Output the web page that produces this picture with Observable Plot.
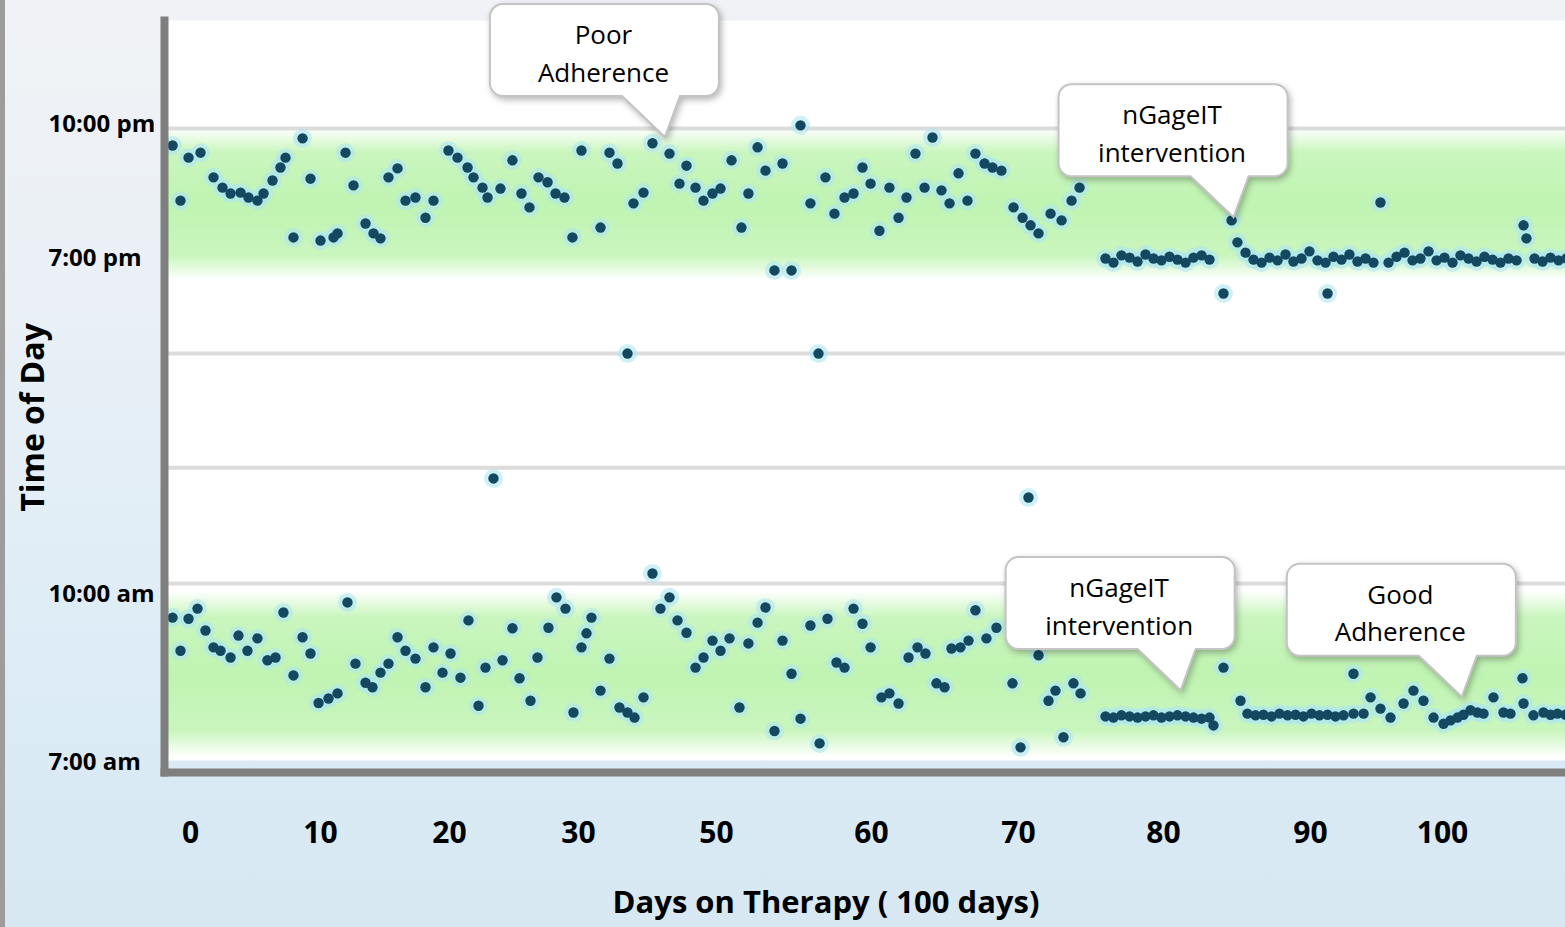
<!DOCTYPE html>
<html>
<head>
<meta charset="utf-8">
<script src="https://cdn.jsdelivr.net/npm/d3@7"></script>
<script src="https://cdn.jsdelivr.net/npm/@observablehq/plot@0.6"></script>
<style>
  html, body { margin: 0; padding: 0; width: 1565px; height: 927px; overflow: hidden; }
  body { position: relative; background: linear-gradient(180deg, #f0f2f5 0%, #e9f0f6 35%, #ddecf6 70%, #d7e8f3 100%); font-family: 'Open Sans', sans-serif; }
  #edge { position: absolute; left: 0; top: 0; width: 5px; height: 927px; background: #9c9c9c; }
  #chart { position: absolute; left: 0; top: 0; }
</style>
</head>
<body>
<div id="edge"></div>
<div id="chart"></div>
<script>
// ---- tick labels ----
const xTicks = [0, 10, 20, 30, 50, 60, 70, 80, 90, 100];
const xTickLabels = ["0", "10", "20", "30", "50", "60", "70", "80", "90", "100"];
const yTicks = [7, 10, 19, 22];
const yTickLabels = ["7:00 am", "10:00 am", "7:00 pm", "10:00 pm"];

// ---- evening dose (day on therapy, hour of day) ----
const eveningDay = [-1.38,-0.77,-0.15,0.77,1.77,2.46,3.08,3.85,4.46,5.15,5.62,6.31,6.92,7.31,7.92,8.62,9.23,10.0,11.01,11.32,11.94,12.56,13.49,14.11,14.65,15.27,15.97,16.59,17.36,18.14,18.76,19.92,20.62,21.40,21.86,22.56,22.95,23.95,24.88,25.58,26.20,26.90,27.60,28.22,28.91,29.53,30.43,33.19,34.49,35.65,37.97,39.42,40.72,43.19,44.64,45.65,46.96,48.12,49.42,50.26,50.97,51.61,52.06,52.65,53.16,53.74,54.26,54.84,55.42,56.06,57.03,57.61,58.26,58.84,59.42,59.94,60.54,61.22,61.84,62.38,62.99,63.61,64.15,64.76,65.31,65.92,66.53,67.07,67.69,68.23,68.84,69.66,70.28,70.83,71.38,72.21,72.97,73.66,74.21,
  76.0,76.55,77.10,77.66,78.21,78.76,79.31,79.86,80.41,80.95,81.50,82.04,82.59,83.13,84.08,84.63,85.03,
  85.58,86.12,86.67,87.21,87.76,88.30,88.84,89.39,89.93,90.53,91.14,91.74,92.35,92.95,93.56,94.17,94.77,91.29,95.30,
  95.91,96.52,97.12,97.73,98.33,98.94,99.55,100.15,100.76,101.36,101.97,102.58,103.18,103.79,104.39,105.00,105.61,106.14,106.36,
  106.97,107.58,108.18,108.79,109.39];
const eveningHour = [21.52,20.29,21.25,21.36,20.81,20.58,20.45,20.47,20.36,20.29,20.45,20.74,21.03,21.25,19.47,21.68,20.78,19.40,19.47,19.56,21.36,20.63,19.78,19.56,19.45,20.81,21.01,20.29,20.36,19.91,20.29,21.41,21.25,21.03,20.81,20.58,20.36,20.56,21.19,20.45,20.14,20.81,20.70,20.45,20.36,19.47,21.41,19.69,21.36,21.12,20.23,20.47,21.57,21.34,20.67,21.07,20.58,20.29,20.45,20.56,21.19,19.69,20.45,21.48,20.96,18.68,21.12,18.68,21.97,20.23,20.81,20.00,20.36,20.45,21.03,20.67,19.62,20.58,19.91,20.36,21.34,20.58,21.70,20.52,20.23,20.90,20.29,21.34,21.12,21.03,20.96,20.14,19.91,19.74,19.56,20.00,19.85,20.29,20.58,
  19.00,18.89,19.07,19.02,18.92,19.09,19.00,18.95,19.04,18.97,18.89,19.02,19.07,18.97,18.06,19.85,19.36,
  19.13,18.97,18.89,19.02,18.95,19.09,18.92,19.00,19.16,18.95,18.89,19.04,18.97,19.09,18.92,19.00,18.89,18.06,20.25,
  18.89,19.04,19.13,18.95,19.00,19.16,18.95,19.02,18.89,19.07,19.00,18.92,19.04,18.97,18.89,19.00,18.95,19.74,19.45,
  19.00,18.92,19.02,18.95,19.00];

// ---- morning dose ----
const morningDay = [-1.38,-0.77,-0.15,0.54,1.15,1.77,2.31,3.08,3.69,4.38,5.15,5.92,6.54,7.15,7.92,8.62,9.23,9.85,10.62,11.32,12.09,12.71,13.49,14.03,14.65,15.27,15.97,16.59,17.36,18.14,18.76,19.46,20.08,20.85,21.47,22.25,22.79,24.11,24.88,25.43,26.28,26.82,27.67,28.29,28.99,29.61,30.43,31.16,31.88,33.19,34.49,35.94,37.10,38.12,39.42,40.72,41.88,43.19,44.35,45.65,46.96,48.12,49.42,50.26,50.84,51.48,52.06,52.65,53.16,53.74,54.26,54.84,55.42,56.06,56.65,57.16,57.74,58.26,58.84,59.42,59.94,60.68,61.22,61.84,62.52,63.13,63.67,64.42,64.97,65.44,66.05,66.60,67.07,67.82,68.50,69.59,70.14,71.38,72.07,72.55,73.10,73.79,74.28,
  76.0,76.55,77.10,77.66,78.21,78.76,79.31,79.86,80.41,80.95,81.50,82.04,82.59,83.13,83.40,84.08,85.24,
  85.71,86.26,86.80,87.35,87.89,88.44,88.98,89.52,90.08,90.68,91.29,91.89,92.50,93.26,93.26,
  94.02,94.55,95.30,96.06,97.05,97.80,98.56,99.32,100.08,100.61,101.14,101.59,102.12,102.65,103.11,103.86,104.62,105.15,106.06,106.14,106.89,107.65,108.18,108.71,109.32];
const morningHour = [9.58,8.99,9.56,9.74,9.35,9.05,8.99,8.87,9.26,8.99,9.21,8.82,8.87,9.67,8.55,9.23,8.94,8.06,8.14,8.23,9.85,8.76,8.42,8.34,8.60,8.76,9.23,8.99,8.85,8.34,9.05,8.60,8.94,8.51,9.53,8.01,8.69,8.82,9.39,8.50,8.10,8.87,9.40,9.94,9.74,7.89,9.05,9.30,9.58,8.28,8.85,7.98,7.89,7.80,8.16,10.55,9.74,9.94,9.53,9.31,8.69,8.87,9.17,8.99,9.21,7.98,9.12,9.49,9.76,7.56,9.17,8.58,7.78,9.44,7.34,9.56,8.78,8.69,9.74,9.47,9.05,8.16,8.23,8.05,8.87,9.05,8.94,8.41,8.34,9.03,9.05,9.17,9.71,9.21,9.40,8.41,7.27,8.91,8.10,8.28,7.45,8.41,8.23,
  7.82,7.80,7.84,7.82,7.80,7.82,7.84,7.80,7.82,7.84,7.82,7.80,7.78,7.80,7.66,8.69,8.10,
  7.87,7.84,7.85,7.82,7.87,7.84,7.85,7.82,7.87,7.84,7.85,7.82,7.84,8.58,7.87,
  7.87,8.16,7.96,7.80,8.05,8.28,8.10,7.80,7.69,7.75,7.80,7.85,7.93,7.89,7.87,8.16,7.89,7.87,8.50,8.05,7.84,7.89,7.85,7.87,7.85];

// ---- doses far outside either window ----
const strayDay = [37.10, 56.58, 23.41, 70.69];
const strayHour = [16.45, 16.45, 13.10, 12.59];

// ---- background grid of the original chart, dosing windows ----
const gridHours = [21.9, 16.45, 13.39, 10.28];
const windowName = ["evening", "morning"];
const windowFrom = [18.41, 7.09];
const windowTo = [21.9, 10.08];

// ---- callouts (pointer tip anchored at day/hour) ----
const calloutText = ["Poor\nAdherence", "nGageIT\nintervention", "nGageIT\nintervention", "Good\nAdherence"];
const calloutDay = [42.6, 84.8, 81.2, 101.5];
const calloutHour = [21.70, 19.91, 8.28, 8.16];

// ---- tables ----
const doses = [
  ...eveningDay.map((d, i) => ({day: d, hour: eveningHour[i], dose: "evening"})),
  ...morningDay.map((d, i) => ({day: d, hour: morningHour[i], dose: "morning"})),
  ...strayDay.map((d, i) => ({day: d, hour: strayHour[i], dose: "stray"}))
];
const windows = windowName.map((n, i) => ({name: n, from: windowFrom[i], to: windowTo[i]}));
const callouts = calloutText.map((t, i) => ({text: t, day: calloutDay[i], hour: calloutHour[i]}));

// ---- layout: the axes of this slide are piecewise (labels sit where the slide put them) ----
const W = 1565, H = 927, mL = 164, mR = 0, mT = 20, mB = 155;
const xLabelAt = [190, 320, 449, 578, 716, 871, 1018, 1163, 1310, 1442];
const yLabelAt = [762, 593.5, 258, 123.5];
const dayAxis = d3.scaleLinear().domain(xTicks).range(xLabelAt);   // piecewise
const hourAxis = d3.scaleLinear().domain(yTicks).range(yLabelAt);  // piecewise

const defsMark = () => {
  const d = d3.create("svg:defs");
  const g = d.append("linearGradient").attr("id", "bandGrad")
    .attr("x1", 0).attr("y1", 0).attr("x2", 0).attr("y2", 1);
  [[0, 0], [0.16, 0.85], [0.5, 1], [0.84, 0.85], [1, 0]].forEach(([o, a]) =>
    g.append("stop").attr("offset", o).attr("stop-color", "#c0f4b2").attr("stop-opacity", a));
  return d.node();
};

const calloutBoxes = (index, scales) => {
  const g = d3.create("svg:g");
  for (const c of callouts) {
    const tx = scales.x(dayAxis(c.day)), ty = scales.y(hourAxis(c.hour));
    const L = tx - 175, T = ty - 133, w = 229, h = 92, r = 13;
    const p = `M${L + r},${T}H${L + w - r}A${r},${r} 0 0 1 ${L + w},${T + r}V${T + h - r}` +
      `A${r},${r} 0 0 1 ${L + w - r},${T + h}H${L + 190}L${tx},${ty}L${L + 132},${T + h}H${L + r}` +
      `A${r},${r} 0 0 1 ${L},${T + h - r}V${T + r}A${r},${r} 0 0 1 ${L + r},${T}Z`;
    g.append("path").attr("d", p).attr("fill", "white").attr("stroke", "#c4c4c4").attr("stroke-width", 2)
      .style("filter", "drop-shadow(2px 3px 3px rgba(0,0,0,0.28))");
  }
  return g.node();
};

const chart = Plot.plot({
  width: W,
  height: H,
  marginLeft: mL,
  marginRight: mR,
  marginTop: mT,
  marginBottom: mB,
  style: {background: "transparent", fontFamily: "'Open Sans', sans-serif", color: "#000"},
  x: {transform: dayAxis, domain: [mL, W - mR]},
  y: {transform: hourAxis, domain: [H - mB, mT]},
  marks: [
    defsMark,
    Plot.frame({fill: "white", insetBottom: 12}),
    Plot.ruleY(gridHours, {stroke: "#d6d6d6", strokeWidth: 4, strokeOpacity: 0.85}),
    Plot.rect(windows, {y1: "from", y2: "to", fill: "url(#bandGrad)"}),
    Plot.dot(doses, {x: "day", y: "hour", r: 9.5, fill: "#aee6f2", fillOpacity: 0.6}),
    Plot.dot(doses, {x: "day", y: "hour", r: 5.2, fill: "#144860"}),
    Plot.frame({anchor: "left", stroke: "#7f7f7f", strokeWidth: 8}),
    Plot.frame({anchor: "bottom", stroke: "#7f7f7f", strokeWidth: 8, strokeLinecap: "square"}),
    Plot.axisX(xTicks, {tickFormat: (d) => xTickLabels[xTicks.indexOf(d)], tickSize: 0, tickPadding: 49,
      fontSize: 30, fontWeight: "bold", label: null}),
    Plot.axisY(yTicks, {tickFormat: (d) => yTickLabels[yTicks.indexOf(d)], tickSize: 0, tickPadding: 116,
      textAnchor: "start", fontSize: 24, fontWeight: "bold", label: null}),
    Plot.text(["Time of Day"], {frameAnchor: "left", textAnchor: "middle", rotate: -90, dx: -131, dy: 21, fontSize: 32, fontWeight: "bold", fill: "#000"}),
    Plot.text(["Days on Therapy ( 100 days)"], {frameAnchor: "bottom", dx: -39, dy: 140, fontSize: 31, fontWeight: "bold", fill: "#000"}),
    calloutBoxes,
    Plot.text(callouts, {x: "day", y: "hour", text: "text", dx: -62, dy: -87, lineHeight: 1.46, fontSize: 26, fill: "#000"})
  ]
});
document.getElementById("chart").appendChild(chart);
</script>
</body>
</html>
